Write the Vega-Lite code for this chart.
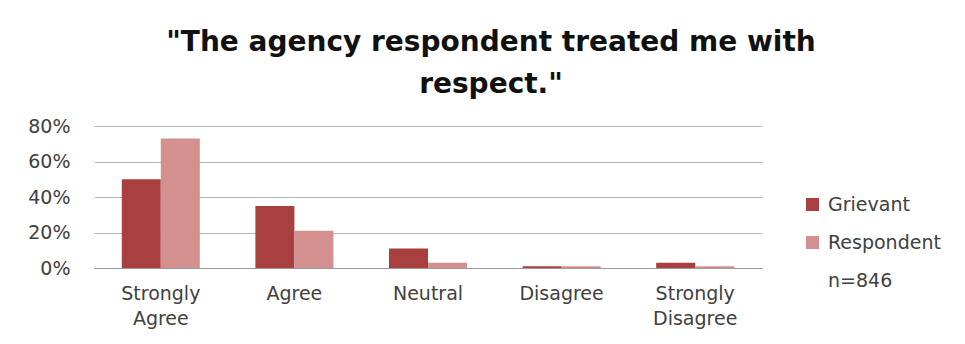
{
  "$schema": "https://vega.github.io/schema/vega-lite/v6.json",
  "width": 668,
  "height": 142,
  "autosize": {"type": "none"},
  "padding": {"left": 94, "top": 126, "right": 203, "bottom": 76},
  "background": "white",
  "title": {
    "text": ["\"The agency respondent treated me with", "respect.\""],
    "font": "DejaVu Sans",
    "fontSize": 28,
    "fontWeight": "bold",
    "color": "#111111",
    "anchor": "middle",
    "frame": "group",
    "dx": 63,
    "lineHeight": 42,
    "offset": 18
  },
  "data": {
    "values": [
      {"answer": "Strongly Agree", "party": "Grievant", "share": 0.50},
      {"answer": "Strongly Agree", "party": "Respondent", "share": 0.73},
      {"answer": "Agree", "party": "Grievant", "share": 0.35},
      {"answer": "Agree", "party": "Respondent", "share": 0.21},
      {"answer": "Neutral", "party": "Grievant", "share": 0.11},
      {"answer": "Neutral", "party": "Respondent", "share": 0.03},
      {"answer": "Disagree", "party": "Grievant", "share": 0.01},
      {"answer": "Disagree", "party": "Respondent", "share": 0.01},
      {"answer": "Strongly Disagree", "party": "Grievant", "share": 0.03},
      {"answer": "Strongly Disagree", "party": "Respondent", "share": 0.01}
    ]
  },
  "mark": {"type": "bar"},
  "encoding": {
    "x": {
      "field": "answer",
      "type": "nominal",
      "sort": ["Strongly Agree", "Agree", "Neutral", "Disagree", "Strongly Disagree"],
      "scale": {"paddingInner": 0.416, "paddingOuter": 0.208},
      "axis": {
        "title": null,
        "labelAngle": 0,
        "labelExpr": "split(datum.label, ' ')",
        "labelFont": "DejaVu Sans",
        "labelFontSize": 19,
        "labelColor": "#404040",
        "labelLineHeight": 25,
        "labelPadding": 16,
        "ticks": false,
        "domainColor": "#9a9a9a",
        "grid": false
      }
    },
    "xOffset": {
      "field": "party",
      "type": "nominal",
      "sort": ["Grievant", "Respondent"],
      "scale": {"paddingInner": 0, "paddingOuter": 0}
    },
    "y": {
      "field": "share",
      "type": "quantitative",
      "scale": {"domain": [0, 0.8]},
      "axis": {
        "title": null,
        "values": [0, 0.2, 0.4, 0.6, 0.8],
        "format": ".0%",
        "labelFont": "DejaVu Sans",
        "labelFontSize": 19,
        "labelColor": "#404040",
        "labelPadding": 24,
        "ticks": false,
        "domain": false,
        "gridColor": "#b4b4b4",
        "gridWidth": 1
      }
    },
    "color": {
      "field": "party",
      "type": "nominal",
      "scale": {
        "domain": ["Grievant", "Respondent", "n=846"],
        "range": ["#a8403f", "#d4908f", "#ffffff"]
      },
      "legend": {
        "title": null,
        "orient": "none",
        "legendX": 709,
        "legendY": 69,
        "padding": 0,
        "symbolType": "square",
        "symbolSize": 169,
        "symbolStrokeWidth": 0,
        "labelFont": "DejaVu Sans",
        "labelFontSize": 19,
        "labelColor": "#404040",
        "labelOffset": 6,
        "rowPadding": 18
      }
    }
  },
  "config": {
    "view": {"stroke": null}
  }
}
